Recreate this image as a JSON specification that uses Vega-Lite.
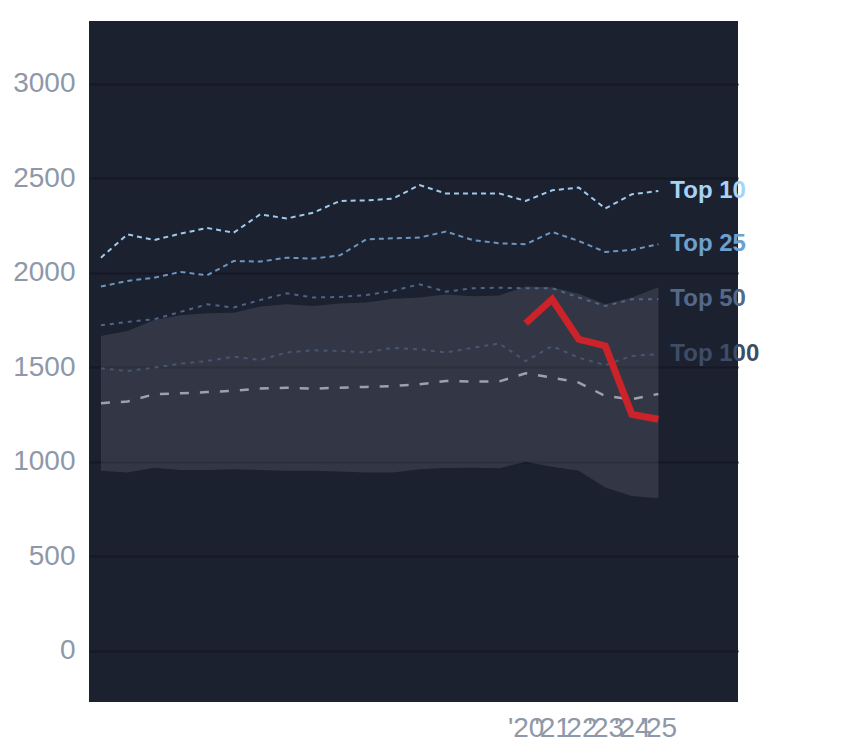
{
  "$schema": "https://vega.github.io/schema/vega-lite/v6.json",
  "autosize": {"type": "none"},
  "padding": {"left": 89, "top": 21, "right": 106, "bottom": 46},
  "width": 649,
  "height": 681,
  "background": "white",
  "view": {"fill": "#1c2130", "stroke": null},
  "config": {
    "font": "Liberation Sans",
    "axis": {
      "labelFont": "Liberation Sans",
      "labelFontSize": 28,
      "labelColor": "#8e98a8",
      "domain": false,
      "ticks": false
    }
  },
  "datasets": {
    "stats": [
      {"year": 2004, "lo": 953, "hi": 1667, "top10": 2081, "top25": 1928, "top50": 1723, "top100": 1496, "median": 1311},
      {"year": 2005, "lo": 944, "hi": 1693, "top10": 2204, "top25": 1958, "top50": 1741, "top100": 1481, "median": 1320},
      {"year": 2006, "lo": 970, "hi": 1751, "top10": 2174, "top25": 1975, "top50": 1755, "top100": 1499, "median": 1358},
      {"year": 2007, "lo": 958, "hi": 1776, "top10": 2208, "top25": 2005, "top50": 1794, "top100": 1520, "median": 1363},
      {"year": 2008, "lo": 958, "hi": 1787, "top10": 2238, "top25": 1988, "top50": 1834, "top100": 1534, "median": 1370},
      {"year": 2009, "lo": 961, "hi": 1790, "top10": 2213, "top25": 2063, "top50": 1817, "top100": 1557, "median": 1376},
      {"year": 2010, "lo": 958, "hi": 1822, "top10": 2310, "top25": 2060, "top50": 1857, "top100": 1540, "median": 1388},
      {"year": 2011, "lo": 953, "hi": 1834, "top10": 2288, "top25": 2081, "top50": 1892, "top100": 1579, "median": 1393},
      {"year": 2012, "lo": 953, "hi": 1825, "top10": 2319, "top25": 2076, "top50": 1870, "top100": 1591, "median": 1388},
      {"year": 2013, "lo": 949, "hi": 1839, "top10": 2381, "top25": 2093, "top50": 1873, "top100": 1587, "median": 1393},
      {"year": 2014, "lo": 944, "hi": 1843, "top10": 2384, "top25": 2178, "top50": 1883, "top100": 1579, "median": 1397},
      {"year": 2015, "lo": 944, "hi": 1864, "top10": 2393, "top25": 2183, "top50": 1905, "top100": 1604, "median": 1402},
      {"year": 2016, "lo": 961, "hi": 1870, "top10": 2465, "top25": 2187, "top50": 1940, "top100": 1596, "median": 1411},
      {"year": 2017, "lo": 968, "hi": 1886, "top10": 2420, "top25": 2219, "top50": 1901, "top100": 1579, "median": 1428},
      {"year": 2018, "lo": 970, "hi": 1877, "top10": 2420, "top25": 2174, "top50": 1919, "top100": 1604, "median": 1426},
      {"year": 2019, "lo": 967, "hi": 1881, "top10": 2421, "top25": 2157, "top50": 1922, "top100": 1627, "median": 1426},
      {"year": 2020, "lo": 1000, "hi": 1928, "top10": 2381, "top25": 2152, "top50": 1919, "top100": 1534, "median": 1469},
      {"year": 2021, "lo": 974, "hi": 1925, "top10": 2437, "top25": 2217, "top50": 1919, "top100": 1613, "median": 1446},
      {"year": 2022, "lo": 953, "hi": 1890, "top10": 2452, "top25": 2169, "top50": 1870, "top100": 1552, "median": 1420},
      {"year": 2023, "lo": 865, "hi": 1835, "top10": 2341, "top25": 2111, "top50": 1825, "top100": 1512, "median": 1349},
      {"year": 2024, "lo": 820, "hi": 1870, "top10": 2416, "top25": 2122, "top50": 1861, "top100": 1561, "median": 1332},
      {"year": 2025, "lo": 808, "hi": 1925, "top10": 2434, "top25": 2152, "top50": 1861, "top100": 1570, "median": 1360}
    ],
    "recent": [
      {"year": 2020, "value": 1734},
      {"year": 2021, "value": 1861},
      {"year": 2022, "value": 1649},
      {"year": 2023, "value": 1614},
      {"year": 2024, "value": 1252},
      {"year": 2025, "value": 1226}
    ],
    "labels": [
      {"year": 2025, "label": "Top 10", "value": 2434},
      {"year": 2025, "label": "Top 25", "value": 2152},
      {"year": 2025, "label": "Top 50", "value": 1861},
      {"year": 2025, "label": "Top 100", "value": 1570}
    ]
  },
  "encoding": {
    "x": {
      "field": "year",
      "type": "quantitative",
      "title": null,
      "scale": {"domain": [2003.55, 2028], "nice": false, "zero": false},
      "axis": {
        "values": [2020, 2021, 2022, 2023, 2024, 2025],
        "labelExpr": "\"'\" + substring(toString(datum.value), 2)",
        "labelOverlap": false,
        "labelFlush": false,
        "labelBound": false,
        "labelPadding": 12,
        "grid": false
      }
    }
  },
  "layer": [
    {
      "data": {"name": "stats"},
      "mark": {"type": "area", "color": "white", "opacity": 0.1},
      "encoding": {
        "y": {
          "field": "hi",
          "type": "quantitative",
          "title": null,
          "scale": {"domain": [-270, 3333], "nice": false, "zero": false},
          "axis": {
            "values": [0, 500, 1000, 1500, 2000, 2500, 3000],
            "format": "d",
            "grid": true,
            "gridColor": "#151924",
            "gridWidth": 2,
            "labelPadding": 14
          }
        },
        "y2": {"field": "lo"}
      }
    },
    {
      "data": {"name": "stats"},
      "mark": {"type": "line", "color": "#9ecbee", "strokeWidth": 2, "strokeDash": [5, 4]},
      "encoding": {"y": {"field": "top10", "type": "quantitative", "title": null}}
    },
    {
      "data": {"name": "stats"},
      "mark": {"type": "line", "color": "#6b96c0", "strokeWidth": 2, "strokeDash": [5, 4]},
      "encoding": {"y": {"field": "top25", "type": "quantitative", "title": null}}
    },
    {
      "data": {"name": "stats"},
      "mark": {"type": "line", "color": "#4e6586", "strokeWidth": 2, "strokeDash": [4, 5]},
      "encoding": {"y": {"field": "top50", "type": "quantitative", "title": null}}
    },
    {
      "data": {"name": "stats"},
      "mark": {"type": "line", "color": "#465570", "strokeWidth": 2, "strokeDash": [4, 5]},
      "encoding": {"y": {"field": "top100", "type": "quantitative", "title": null}}
    },
    {
      "data": {"name": "stats"},
      "mark": {"type": "line", "color": "#9ca1ab", "strokeWidth": 2.5, "strokeDash": [9, 11]},
      "encoding": {"y": {"field": "median", "type": "quantitative", "title": null}}
    },
    {
      "data": {"name": "recent"},
      "mark": {"type": "line", "color": "#cc2229", "strokeWidth": 7},
      "encoding": {"y": {"field": "value", "type": "quantitative", "title": null}}
    },
    {
      "data": {"name": "labels"},
      "mark": {
        "type": "text",
        "align": "left",
        "baseline": "middle",
        "dx": 12,
        "font": "Liberation Sans",
        "fontSize": 24,
        "fontWeight": "bold"
      },
      "encoding": {
        "y": {"field": "value", "type": "quantitative", "title": null},
        "text": {"field": "label"},
        "color": {
          "field": "label",
          "type": "nominal",
          "legend": null,
          "scale": {
            "domain": ["Top 10", "Top 25", "Top 50", "Top 100"],
            "range": ["#a6d3f7", "#6f9fcc", "#53698a", "#3f4c66"]
          }
        }
      }
    }
  ]
}
